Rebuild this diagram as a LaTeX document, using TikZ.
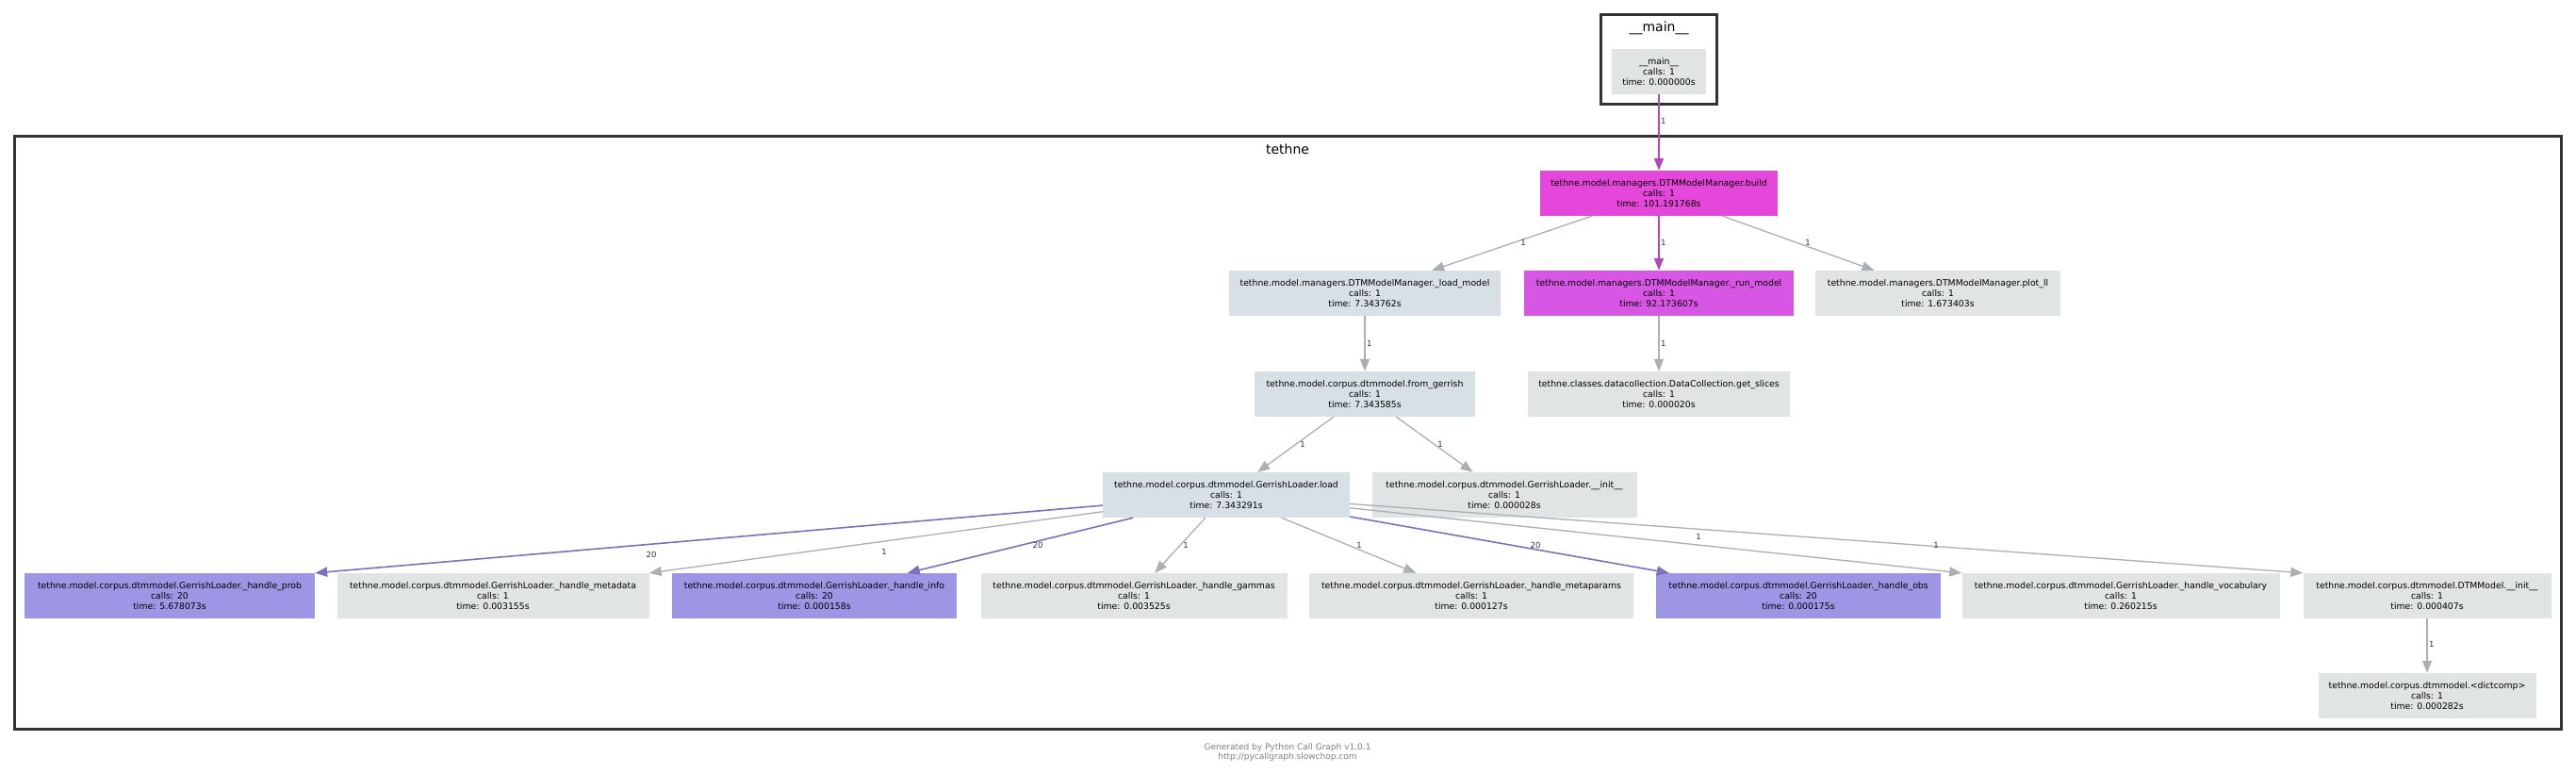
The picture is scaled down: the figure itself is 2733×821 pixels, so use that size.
\documentclass[tikz,border=0pt]{standalone}
\usepackage{fontspec}
\setmainfont{DejaVu Sans}
\usetikzlibrary{arrows.meta}
\definecolor{nodegrey}{HTML}{E0E4E5}
\definecolor{nodeblue}{HTML}{D7E1E5}
\definecolor{nodemag}{HTML}{E447D9}
\definecolor{noderun}{HTML}{D756E4}
\definecolor{nodepurple}{HTML}{9C96E4}
\definecolor{edgegrey}{HTML}{ABAFB1}
\definecolor{edgepurple}{HTML}{7B71BD}
\definecolor{edgemag}{HTML}{B346BB}
\definecolor{clusterline}{HTML}{333333}
\definecolor{footgrey}{HTML}{808080}

\begin{document}
\begin{tikzpicture}[x=1pt,y=-1pt]
      \tikzstyle{every node}+=[inner sep=0pt]
      \tikzstyle{fn}=[rectangle, align=center, minimum height=48pt, font=\fontsize{9.3}{11}\selectfont]
      \tikzstyle{cluster}=[draw=clusterline, line width=3pt]
      \tikzstyle{title}=[font=\fontsize{14}{16}\selectfont]
      \tikzstyle{lbl}=[font=\fontsize{8.5}{10}\selectfont, text=black!80]
      \tikzstyle{call}=[-{Triangle[length=13pt,width=10pt]}, line width=1.3pt, draw=edgegrey]
      \tikzstyle{hotcall}=[call, draw=edgemag, line width=1.6pt]
      \tikzstyle{loopcall}=[call, draw=edgepurple, line width=1.6pt]
      \fill [white] (0,0) rectangle (2733,821);
      \useasboundingbox (0,0) rectangle (2733,821);
      % clusters
      \draw [cluster] (1698,16) rectangle (1821,111);
      \draw (1760,30) node [title] (maintitle) {\_\_main\_\_};
      \draw [cluster] (15,145) rectangle (2717,773);
      \draw (1366,158) node [title] (tethnetitle) {tethne};
      % functions
      \node [fn, fill=nodegrey, minimum width=100pt] (main) at (1760,76) {\_\_main\_\_\\calls: 1\\time: 0.000000s};
      \node [fn, fill=nodemag, minimum width=252pt] (build) at (1760,205) {tethne.model.managers.DTMModelManager.build\\calls: 1\\time: 101.191768s};
      \node [fn, fill=nodeblue, minimum width=288pt] (loadmodel) at (1448,311) {tethne.model.managers.DTMModelManager.\_load\_model\\calls: 1\\time: 7.343762s};
      \node [fn, fill=noderun, minimum width=286pt] (runmodel) at (1760,311) {tethne.model.managers.DTMModelManager.\_run\_model\\calls: 1\\time: 92.173607s};
      \node [fn, fill=nodegrey, minimum width=260pt] (plotll) at (2056,311) {tethne.model.managers.DTMModelManager.plot\_ll\\calls: 1\\time: 1.673403s};
      \node [fn, fill=nodeblue, minimum width=234pt] (fromgerrish) at (1448,418) {tethne.model.corpus.dtmmodel.from\_gerrish\\calls: 1\\time: 7.343585s};
      \node [fn, fill=nodegrey, minimum width=278pt] (getslices) at (1760,418) {tethne.classes.datacollection.DataCollection.get\_slices\\calls: 1\\time: 0.000020s};
      \node [fn, fill=nodeblue, minimum width=262pt] (gload) at (1301,525) {tethne.model.corpus.dtmmodel.GerrishLoader.load\\calls: 1\\time: 7.343291s};
      \node [fn, fill=nodegrey, minimum width=281pt] (ginit) at (1596,525) {tethne.model.corpus.dtmmodel.GerrishLoader.\_\_init\_\_\\calls: 1\\time: 0.000028s};
      \node [fn, fill=nodepurple, minimum width=308pt] (hprob) at (180,632) {tethne.model.corpus.dtmmodel.GerrishLoader.\_handle\_prob\\calls: 20\\time: 5.678073s};
      \node [fn, fill=nodegrey, minimum width=331pt] (hmeta) at (523,632) {tethne.model.corpus.dtmmodel.GerrishLoader.\_handle\_metadata\\calls: 1\\time: 0.003155s};
      \node [fn, fill=nodepurple, minimum width=302pt] (hinfo) at (864,632) {tethne.model.corpus.dtmmodel.GerrishLoader.\_handle\_info\\calls: 20\\time: 0.000158s};
      \node [fn, fill=nodegrey, minimum width=325pt] (hgamma) at (1203,632) {tethne.model.corpus.dtmmodel.GerrishLoader.\_handle\_gammas\\calls: 1\\time: 0.003525s};
      \node [fn, fill=nodegrey, minimum width=344pt] (hmetapar) at (1561,632) {tethne.model.corpus.dtmmodel.GerrishLoader.\_handle\_metaparams\\calls: 1\\time: 0.000127s};
      \node [fn, fill=nodepurple, minimum width=302pt] (hobs) at (1908,632) {tethne.model.corpus.dtmmodel.GerrishLoader.\_handle\_obs\\calls: 20\\time: 0.000175s};
      \node [fn, fill=nodegrey, minimum width=337pt] (hvocab) at (2250,632) {tethne.model.corpus.dtmmodel.GerrishLoader.\_handle\_vocabulary\\calls: 1\\time: 0.260215s};
      \node [fn, fill=nodegrey, minimum width=263pt] (dtminit) at (2575,632) {tethne.model.corpus.dtmmodel.DTMModel.\_\_init\_\_\\calls: 1\\time: 0.000407s};
      \node [fn, fill=nodegrey, minimum width=231pt] (dictcomp) at (2575,738) {tethne.model.corpus.dtmmodel.<dictcomp>\\calls: 1\\time: 0.000282s};
      % calls
      \draw [hotcall] (main) -- (build);
      \draw (1762,128) node [lbl, right] (l1) {1};
      \draw [call] (build) -- (loadmodel);
      \draw (1616,257) node [lbl] (l2) {1};
      \draw [hotcall] (build) -- (runmodel);
      \draw (1762,257) node [lbl, right] (l3) {1};
      \draw [call] (build) -- (plotll);
      \draw (1918,257) node [lbl] (l4) {1};
      \draw [call] (loadmodel) -- (fromgerrish);
      \draw (1450,364) node [lbl, right] (l5) {1};
      \draw [call] (runmodel) -- (getslices);
      \draw (1762,364) node [lbl, right] (l6) {1};
      \draw [call] (fromgerrish) -- (gload);
      \draw (1382,471) node [lbl] (l7) {1};
      \draw [call] (fromgerrish) -- (ginit);
      \draw (1528,471) node [lbl] (l8) {1};
      \draw [loopcall] (gload) -- (hprob.north east);
      \draw (691,588) node [lbl] (l9) {20};
      \draw [call] (gload) -- (hmeta.north east);
      \draw (938,585) node [lbl] (l10) {1};
      \draw [loopcall] (gload) -- (hinfo);
      \draw (1101,578) node [lbl] (l11) {20};
      \draw [call] (gload) -- (hgamma);
      \draw (1258,578) node [lbl] (l12) {1};
      \draw [call] (gload) -- (hmetapar);
      \draw (1442,578) node [lbl] (l13) {1};
      \draw [loopcall] (gload) -- (hobs);
      \draw (1629,578) node [lbl] (l14) {20};
      \draw [call] (gload) -- (hvocab.north west);
      \draw (1802,569) node [lbl] (l15) {1};
      \draw [call] (gload) -- (dtminit.north west);
      \draw (2054,578) node [lbl] (l16) {1};
      \draw [call] (dtminit) -- (dictcomp);
      \draw (2577,683) node [lbl, right] (l17) {1};
      % footer
      \draw (1366,798) node [align=center, text=footgrey, font=\fontsize{9}{10}\selectfont] (footer) {Generated by Python Call Graph v1.0.1\\http://pycallgraph.slowchop.com};
\end{tikzpicture}
\end{document}
